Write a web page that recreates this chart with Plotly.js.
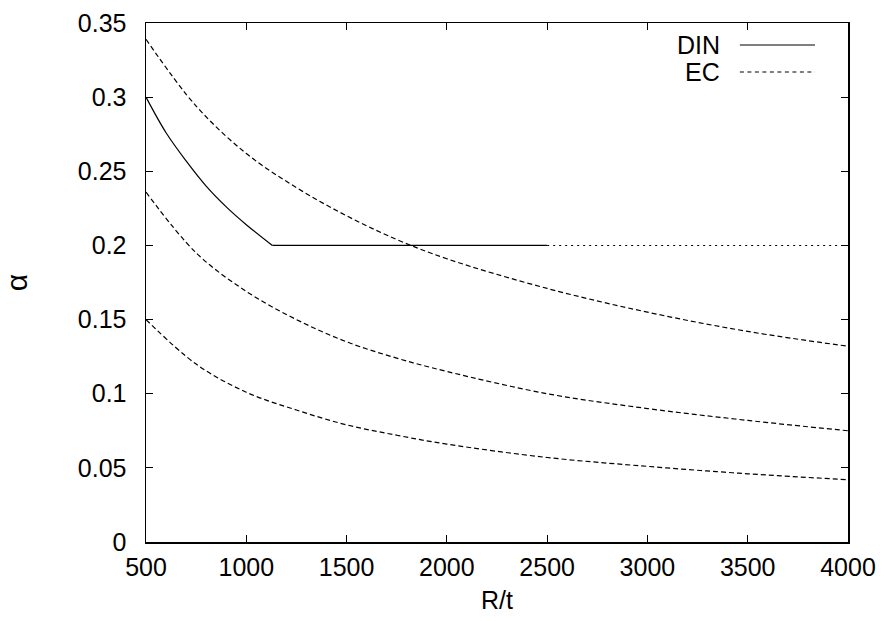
<!DOCTYPE html>
<html>
<head>
<meta charset="utf-8">
<script src="https://cdn.plot.ly/plotly-3.0.1.min.js"></script>
<style>
  html, body { margin: 0; padding: 0; background: #fff; }
  #chart { width: 886px; height: 621px; }
</style>
</head>
<body>
<div id="chart"></div>
<script>
// Slenderness R/t sampled along the EC curves
const ecX = [500, 750, 1000, 1250, 1500, 1750, 2000, 2500, 3000, 3500, 4000];
// EC imperfection reduction factor for the three fabrication quality classes
const ecClassA = [0.339, 0.294, 0.262, 0.239, 0.220, 0.204, 0.191, 0.171, 0.155, 0.142, 0.132];
const ecClassB = [0.236, 0.195, 0.169, 0.150, 0.135, 0.124, 0.115, 0.100, 0.090, 0.082, 0.075];
const ecClassC = [0.150, 0.120, 0.101, 0.089, 0.079, 0.072, 0.066, 0.057, 0.051, 0.046, 0.042];

// DIN curve: decreasing branch, constant plateau, and extrapolated plateau
const dinCurveX = [500, 600, 700, 800, 900, 1000, 1130];
const dinCurveY = [0.300, 0.276, 0.257, 0.240, 0.226, 0.214, 0.200];
const dinFlatX = [1130, 2500];
const dinFlatY = [0.200, 0.200];
const dinExtX = [2500, 4000];
const dinExtY = [0.200, 0.200];

const xTicks = [500, 1000, 1500, 2000, 2500, 3000, 3500, 4000];
const yTicks = [0, 0.05, 0.1, 0.15, 0.2, 0.25, 0.3, 0.35];

const FONT = 'Liberation Sans, Arial, Helvetica, sans-serif';
const FS = 25;
const ecLine = { color: '#000', width: 1.2, dash: '5px,3px', shape: 'spline' };

const traces = [
  { x: dinCurveX, y: dinCurveY, mode: 'lines', name: 'DIN',
    line: { color: '#000', width: 1.2, shape: 'spline' } },
  { x: dinFlatX, y: dinFlatY, mode: 'lines', name: 'DIN',
    line: { color: '#000', width: 1.2 } },
  { x: dinExtX, y: dinExtY, mode: 'lines', name: 'DIN',
    line: { color: '#000', width: 1.1, dash: '2px,4px' } },
  { x: ecX, y: ecClassA, mode: 'lines', name: 'EC', line: ecLine },
  { x: ecX, y: ecClassB, mode: 'lines', name: 'EC', line: ecLine },
  { x: ecX, y: ecClassC, mode: 'lines', name: 'EC', line: ecLine }
];

const axisCommon = {
  showline: true, linecolor: '#000', linewidth: 1.5,
  mirror: 'ticks', ticks: 'inside', ticklen: 7, tickwidth: 1, tickcolor: '#000',
  showgrid: false, zeroline: false,
  tickfont: { family: FONT, size: FS, color: '#000' }
};

// Key drawn in the upper right: label on the left, line sample on the right
const keyItems = [
  { label: 'DIN', y: 0.9576, dash: 'solid' },
  { label: 'EC', y: 0.9056, dash: '4px,3.5px' }
];

const layout = {
  width: 886, height: 621,
  margin: { l: 146, r: 38, t: 23, b: 79 },
  paper_bgcolor: '#fff', plot_bgcolor: '#fff',
  showlegend: false,
  font: { family: FONT, size: FS, color: '#000' },
  xaxis: Object.assign({}, axisCommon, {
    range: [500, 4000], tickvals: xTicks, ticktext: xTicks.map(String),
    ticklabelstandoff: 2,
    title: { text: 'R/t', font: { family: FONT, size: FS, color: '#000' }, standoff: 12 }
  }),
  yaxis: Object.assign({}, axisCommon, {
    range: [0, 0.35], tickvals: yTicks, ticktext: yTicks.map(String),
    ticklabelstandoff: 13,
    title: { text: 'α', font: { family: FONT, size: 30, color: '#000' }, standoff: 48 }
  }),
  annotations: keyItems.map(k => ({
    xref: 'paper', yref: 'paper', x: 0.8205, y: k.y,
    xanchor: 'right', yanchor: 'middle', showarrow: false,
    text: k.label, font: { family: FONT, size: FS, color: '#000' }
  })),
  shapes: keyItems.map(k => ({
    type: 'line', xref: 'paper', yref: 'paper',
    x0: 0.846, x1: 0.953, y0: k.y, y1: k.y,
    line: { color: '#000', width: 1.1, dash: k.dash }
  }))
};

Plotly.newPlot('chart', traces, layout, { displayModeBar: false, staticPlot: true });
</script>
</body>
</html>
